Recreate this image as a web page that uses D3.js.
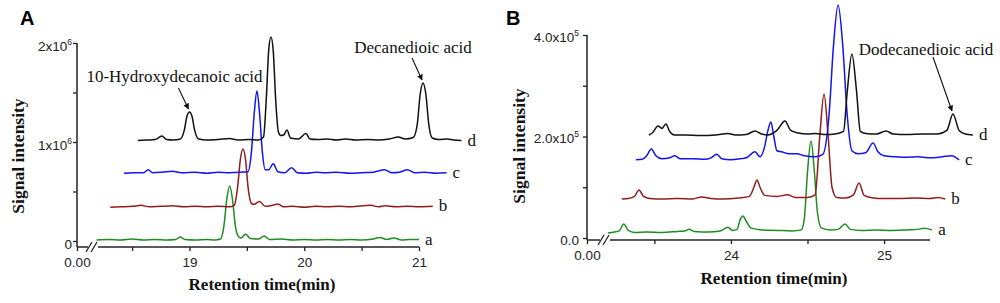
<!DOCTYPE html>
<html>
<head>
<meta charset="utf-8">
<script src="https://cdn.jsdelivr.net/npm/d3@7"></script>
<style>
body { margin: 0; background: #fff; }
svg { display: block; }
.tick text { font-family: "Liberation Sans", Arial, sans-serif; font-size: 13.5px; fill: #222; }
.tick line { stroke: #222; stroke-width: 1.3; }
.serif { font-family: "Liberation Serif", "Times New Roman", serif; fill: #111; }
</style>
</head>
<body>
<svg id="chart" width="1000" height="303"></svg>
<script>
// ---- panel A : retention time (min) vs signal (x1e6), traces already offset as plotted
var traceA_a = [[18.19,0.01],[18.30,0.015],[18.40,0.01],[18.50,0.02],[18.60,0.01],[18.70,0.015],[18.80,0.01],[18.88,0.015],[18.92,0.04],[18.96,0.015],[19.05,0.01],[19.15,0.015],[19.22,0.01],[19.27,0.02],[19.30,0.15],[19.325,0.42],[19.35,0.556],[19.375,0.42],[19.40,0.15],[19.43,0.04],[19.45,0.03],[19.49,0.07],[19.53,0.025],[19.60,0.02],[19.65,0.05],[19.70,0.015],[19.80,0.02],[19.90,0.01],[20.00,0.015],[20.10,0.01],[20.20,0.015],[20.30,0.01],[20.40,0.015],[20.50,0.01],[20.60,0.02],[20.66,0.035],[20.72,0.015],[20.78,0.03],[20.85,0.01],[20.92,0.015],[21.00,0.015]];
var traceA_b = [[18.31,0.34],[18.40,0.345],[18.50,0.35],[18.58,0.36],[18.65,0.345],[18.75,0.35],[18.85,0.355],[18.95,0.345],[19.05,0.35],[19.15,0.345],[19.25,0.35],[19.35,0.345],[19.39,0.36],[19.42,0.55],[19.443,0.82],[19.466,0.93],[19.489,0.82],[19.51,0.55],[19.54,0.38],[19.56,0.37],[19.61,0.40],[19.66,0.35],[19.72,0.36],[19.77,0.375],[19.82,0.345],[19.90,0.35],[20.00,0.34],[20.10,0.35],[20.20,0.345],[20.30,0.35],[20.40,0.345],[20.58,0.36],[20.65,0.345],[20.70,0.355],[20.80,0.345],[20.90,0.35],[21.00,0.345],[21.12,0.35]];
var traceA_c = [[18.43,0.685],[18.52,0.69],[18.60,0.69],[18.64,0.72],[18.68,0.69],[18.76,0.695],[18.85,0.705],[18.93,0.69],[19.05,0.695],[19.15,0.685],[19.25,0.695],[19.35,0.69],[19.45,0.695],[19.51,0.70],[19.54,0.9],[19.565,1.3],[19.588,1.515],[19.61,1.3],[19.635,0.9],[19.66,0.72],[19.69,0.72],[19.73,0.78],[19.77,0.70],[19.83,0.69],[19.89,0.74],[19.94,0.69],[20.02,0.685],[20.10,0.695],[20.18,0.69],[20.28,0.695],[20.40,0.685],[20.50,0.69],[20.60,0.695],[20.70,0.72],[20.76,0.69],[20.83,0.695],[20.90,0.72],[20.96,0.69],[21.05,0.695],[21.15,0.685],[21.24,0.69]];
var traceA_d = [[18.55,1.015],[18.62,1.02],[18.70,1.025],[18.76,1.06],[18.80,1.025],[18.86,1.02],[18.92,1.03],[18.955,1.12],[18.978,1.26],[19.00,1.303],[19.022,1.26],[19.045,1.12],[19.08,1.03],[19.15,1.02],[19.25,1.025],[19.35,1.035],[19.42,1.02],[19.52,1.025],[19.60,1.02],[19.645,1.05],[19.67,1.45],[19.69,1.92],[19.71,2.06],[19.73,1.92],[19.75,1.45],[19.775,1.1],[19.795,1.065],[19.82,1.07],[19.85,1.12],[19.88,1.04],[19.95,1.03],[20.015,1.085],[20.05,1.03],[20.12,1.025],[20.20,1.03],[20.28,1.02],[20.36,1.03],[20.45,1.02],[20.55,1.025],[20.65,1.02],[20.74,1.03],[20.82,1.05],[20.88,1.03],[20.95,1.045],[20.985,1.18],[21.01,1.48],[21.035,1.596],[21.06,1.48],[21.085,1.18],[21.115,1.04],[21.17,1.025],[21.25,1.03],[21.30,1.02],[21.37,1.015]];
var ticksA_x = [18.02, 18.5, 19, 19.5, 20, 20.5, 21];
var labelsA_x = ["0.00", "", "19", "", "20", "", "21"];
var ticksA_y = [0, 0.5, 1, 1.5, 2];
var labelsA_y = [["0", ""], ["", ""], ["1x10", "6"], ["", ""], ["2x10", "6"]];

// ---- panel B : retention time (min) vs signal (x1e5)
var traceB_a = [[23.196,0.10],[23.24,0.12],[23.27,0.14],[23.30,0.276],[23.33,0.15],[23.37,0.11],[23.45,0.12],[23.55,0.11],[23.65,0.13],[23.70,0.14],[23.726,0.17],[23.76,0.13],[23.85,0.12],[23.93,0.14],[23.98,0.21],[24.01,0.15],[24.04,0.17],[24.06,0.36],[24.078,0.433],[24.10,0.33],[24.13,0.20],[24.20,0.16],[24.30,0.15],[24.40,0.14],[24.46,0.16],[24.48,0.4],[24.50,1.3],[24.523,1.911],[24.545,1.3],[24.565,0.5],[24.59,0.2],[24.65,0.16],[24.70,0.17],[24.745,0.276],[24.78,0.17],[24.85,0.15],[24.95,0.16],[25.05,0.15],[25.15,0.16],[25.22,0.17],[25.26,0.19],[25.314,0.16]];
var traceB_b = [[23.288,0.77],[23.33,0.78],[23.37,0.82],[23.399,0.946],[23.43,0.82],[23.47,0.78],[23.55,0.77],[23.65,0.78],[23.75,0.77],[23.81,0.81],[23.87,0.78],[23.95,0.77],[24.05,0.79],[24.12,0.82],[24.15,1.0],[24.17,1.143],[24.19,1.0],[24.22,0.84],[24.30,0.82],[24.37,0.85],[24.42,0.80],[24.50,0.80],[24.55,0.85],[24.58,2.0],[24.608,2.837],[24.635,2.0],[24.66,1.0],[24.69,0.8],[24.75,0.79],[24.80,0.85],[24.837,1.084],[24.87,0.84],[24.93,0.79],[25.00,0.78],[25.10,0.78],[25.20,0.79],[25.30,0.78],[25.35,0.80],[25.399,0.77]];
var traceB_c = [[23.379,1.54],[23.42,1.55],[23.45,1.62],[23.48,1.754],[23.51,1.62],[23.55,1.56],[23.60,1.58],[23.634,1.62],[23.67,1.56],[23.75,1.56],[23.83,1.55],[23.87,1.58],[23.908,1.65],[23.94,1.56],[24.00,1.54],[24.06,1.56],[24.10,1.58],[24.157,1.70],[24.19,1.6],[24.22,1.8],[24.24,2.1],[24.261,2.286],[24.28,2.0],[24.30,1.72],[24.33,1.70],[24.38,1.66],[24.43,1.66],[24.48,1.62],[24.55,1.60],[24.60,1.65],[24.64,2.4],[24.67,3.8],[24.70,4.591],[24.73,3.8],[24.76,2.4],[24.79,1.72],[24.83,1.66],[24.88,1.68],[24.928,1.872],[24.96,1.7],[25.00,1.62],[25.08,1.60],[25.15,1.59],[25.22,1.60],[25.30,1.58],[25.38,1.60],[25.44,1.62],[25.49,1.54]];
var traceB_d = [[23.464,2.03],[23.49,2.08],[23.523,2.207],[23.55,2.16],[23.575,2.246],[23.60,2.10],[23.63,2.03],[23.70,2.03],[23.80,2.02],[23.90,2.03],[23.98,2.06],[24.03,2.03],[24.10,2.04],[24.157,2.108],[24.20,2.05],[24.24,2.03],[24.30,2.12],[24.353,2.305],[24.39,2.12],[24.44,2.07],[24.50,2.05],[24.55,2.06],[24.62,2.04],[24.68,2.05],[24.735,2.1],[24.76,2.9],[24.79,3.626],[24.82,2.9],[24.845,2.1],[24.88,2.06],[24.95,2.05],[25.013,2.108],[25.06,2.05],[25.15,2.04],[25.25,2.05],[25.35,2.05],[25.41,2.12],[25.45,2.443],[25.49,2.12],[25.53,2.05],[25.58,2.03]];
var ticksB_x = [23.06, 23.5, 24, 24.5, 25];
var labelsB_x = ["0.00", "", "24", "", "25"];
var ticksB_y = [0, 1, 2, 3, 4];
var labelsB_y = [["0.0", ""], ["", ""], ["2.0x10", "5"], ["", ""], ["4.0x10", "5"]];

var traceNames = ["a", "b", "c", "d"];
var traceColors = ["#1f8c1f", "#921c1c", "#1414ee", "#111111"];

var svg = d3.select("#chart");

svg.append("defs").append("marker")
    .attr("id", "arrow")
    .attr("viewBox", "0 0 10 10")
    .attr("refX", 9).attr("refY", 5)
    .attr("markerWidth", 6).attr("markerHeight", 6)
    .attr("markerUnits", "userSpaceOnUse")
    .attr("orient", "auto")
    .append("path").attr("d", "M0,0L10,5L0,10z").attr("fill", "#111");

function drawPanel(cfg) {
    var g = svg.append("g");
    var x = d3.scaleLinear().domain(cfg.xDomain).range(cfg.xRange);
    var y = d3.scaleLinear().domain(cfg.yDomain).range(cfg.yRange);

    // panel letter
    g.append("text").attr("x", cfg.letterX).attr("y", 25)
        .attr("font-family", "'Liberation Sans', Arial, sans-serif")
        .attr("font-weight", "bold").attr("font-size", 20)
        .text(cfg.letter);

    // y axis
    var yAxis = d3.axisLeft(y).tickValues(cfg.yTicks).tickSize(4).tickSizeOuter(0).tickFormat("");
    var yg = g.append("g").attr("transform", "translate(" + cfg.xRange[0] + ",0)").call(yAxis);
    yg.select(".domain").remove();
    yg.selectAll(".tick").each(function(d, i) {
        var lab = cfg.yLabels[i];
        if (!lab[0]) return;
        var t = d3.select(this).append("text")
            .attr("x", cfg.yLabelX).attr("y", cfg.yLabelDy)
            .attr("text-anchor", "end");
        t.append("tspan").text(lab[0]);
        if (lab[1]) t.append("tspan").attr("font-size", 8.5).attr("dy", -6).text(lab[1]);
    });
    g.append("line")
        .attr("x1", cfg.xRange[0]).attr("x2", cfg.xRange[0])
        .attr("y1", y(cfg.yDomain[1])).attr("y2", cfg.axisY)
        .attr("stroke", "#222").attr("stroke-width", 1.5);

    // x axis with break
    var xAxis = d3.axisBottom(x).tickValues(cfg.xTicks).tickSize(4).tickSizeOuter(0)
        .tickFormat(function(d, i) { return cfg.xLabels[i]; });
    var xg = g.append("g").attr("transform", "translate(0," + cfg.axisY + ")").call(xAxis);
    xg.select(".domain").remove();
    xg.selectAll(".tick text").attr("dy", "0.95em");
    var x0 = cfg.xRange[0];
    g.append("line").attr("x1", x0).attr("x2", x0 + cfg.breakAt)
        .attr("y1", cfg.axisY).attr("y2", cfg.axisY).attr("stroke", "#222").attr("stroke-width", 1.5);
    g.append("line").attr("x1", x0 + cfg.breakAt + 10).attr("x2", cfg.xRange[1])
        .attr("y1", cfg.axisY).attr("y2", cfg.axisY).attr("stroke", "#222").attr("stroke-width", 1.5);
    [0, 5].forEach(function(off) {
        var bx = x0 + cfg.breakAt + off;
        g.append("line").attr("x1", bx - 2).attr("y1", cfg.axisY + 5)
            .attr("x2", bx + 4).attr("y2", cfg.axisY - 5)
            .attr("stroke", "#222").attr("stroke-width", 1.3);
    });

    // axis titles
    g.append("text").attr("class", "serif")
        .attr("x", cfg.xTitleX).attr("y", cfg.xTitleY)
        .attr("text-anchor", "middle").attr("font-weight", "bold").attr("font-size", 17)
        .text("Retention time(min)");
    g.append("text").attr("class", "serif")
        .attr("transform", "translate(" + cfg.yTitleX + "," + cfg.yTitleY + ") rotate(-90)")
        .attr("text-anchor", "middle").attr("font-weight", "bold").attr("font-size", 17.5)
        .text("Signal intensity");

    // traces
    var line = d3.line().x(d => x(d[0])).y(d => y(d[1])).curve(d3.curveMonotoneX);
    cfg.traces.forEach(function(tr, i) {
        g.append("path").datum(tr)
            .attr("d", line)
            .attr("fill", "none")
            .attr("stroke", traceColors[i])
            .attr("stroke-width", 1.5)
            .attr("stroke-linejoin", "round");
        var last = tr[tr.length - 1];
        g.append("text").attr("class", "serif")
            .attr("x", x(last[0]) + 6).attr("y", y(last[1]) + 5)
            .attr("font-size", 17)
            .text(traceNames[i]);
    });

    // annotations
    cfg.notes.forEach(function(n) {
        var px = x(n.peak[0]), py = y(n.peak[1]);
        g.append("line")
            .attr("x1", px + n.from[0]).attr("y1", py + n.from[1])
            .attr("x2", px - 1).attr("y2", py - 3)
            .attr("stroke", "#111").attr("stroke-width", 1.1)
            .attr("marker-end", "url(#arrow)");
        g.append("text").attr("class", "serif")
            .attr("x", px + n.text[0]).attr("y", py + n.text[1])
            .attr("text-anchor", "middle").attr("font-size", 17)
            .text(n.label);
    });
}

drawPanel({
    letter: "A", letterX: 20,
    xDomain: [18.02, 21], xRange: [77, 419],
    yDomain: [0, 2], yRange: [241, 43],
    axisY: 247, breakAt: 11,
    xTicks: ticksA_x, xLabels: labelsA_x,
    yTicks: ticksA_y, yLabels: labelsA_y, yLabelX: -5, yLabelDy: 7,
    xTitleX: 262, xTitleY: 290, yTitleX: 24, yTitleY: 156,
    traces: [traceA_a, traceA_b, traceA_c, traceA_d],
    notes: [
        { peak: [19.0, 1.303], from: [-11, -24], text: [-15, -30], label: "10-Hydroxydecanoic acid" },
        { peak: [21.035, 1.596], from: [-11, -25], text: [-10, -30], label: "Decanedioic acid" }
    ]
});

drawPanel({
    letter: "B", letterX: 506,
    xDomain: [23.06, 25.3], xRange: [587, 930],
    yDomain: [0, 4], yRange: [238, 35],
    axisY: 240, breakAt: 13,
    xTicks: ticksB_x, xLabels: labelsB_x,
    yTicks: ticksB_y, yLabels: labelsB_y, yLabelX: -8, yLabelDy: 6,
    xTitleX: 774, xTitleY: 284, yTitleX: 525, yTitleY: 146,
    traces: [traceB_a, traceB_b, traceB_c, traceB_d],
    notes: [
        { peak: [25.45, 2.443], from: [-20, -57], text: [-27, -59], label: "Dodecanedioic acid" }
    ]
});
</script>
</body>
</html>
